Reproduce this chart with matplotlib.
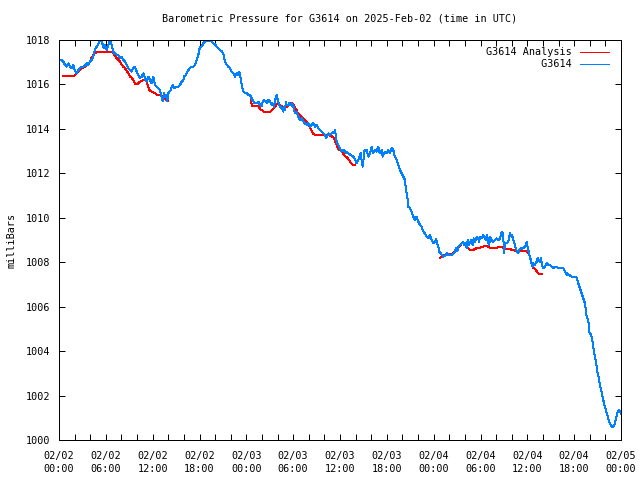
import matplotlib
matplotlib.use("Agg")
import matplotlib.pyplot as plt
from matplotlib.ticker import MultipleLocator

# hours since 2025-02-02 00:00 UTC, pressure in millibars
obs_hours = [
    0.00, 0.34, 0.55, 0.77, 0.98, 1.20, 1.41, 1.62, 1.84, 2.05, 2.27, 2.48, 2.69, 2.90,
    3.12, 3.33, 3.55, 3.76, 3.97, 4.19, 4.40, 4.53, 4.70, 4.96, 5.17, 5.38, 5.55, 5.72,
    5.90, 6.10, 6.32, 6.53, 6.75, 6.96, 7.17, 7.39, 7.60, 7.80, 8.03, 8.24, 8.46, 8.67,
    8.88, 9.10, 9.31, 9.52, 9.74, 9.95, 10.16, 10.38, 10.59, 10.80, 11.02, 11.23, 11.44,
    11.66, 11.87, 12.08, 12.30, 12.51, 12.72, 12.94, 13.15, 13.28, 13.45, 13.58, 13.70,
    13.88, 14.00, 14.13, 14.31, 14.56, 14.73, 14.99, 15.29, 15.50, 15.72, 15.93, 16.01,
    16.27, 16.44, 16.78, 17.00, 17.21, 17.42, 17.64, 17.85, 17.98, 18.06, 18.28, 18.48,
    18.70, 18.92, 19.13, 19.34, 19.56, 19.77, 19.98, 20.20, 20.41, 20.63, 20.84, 21.05,
    21.27, 21.48, 21.69, 21.91, 22.12, 22.33, 22.55, 22.76, 22.97, 23.10, 23.27, 23.40,
    23.61, 23.83, 24.04, 24.25, 24.47, 24.68, 24.89, 25.11, 25.32, 25.53, 25.75, 25.96,
    26.09, 26.26, 26.52, 26.69, 26.81, 27.03, 27.24, 27.37, 27.54, 27.67, 27.80, 27.88,
    28.09, 28.22, 28.31, 28.52, 28.65, 28.73, 28.86, 28.95, 29.08, 29.16, 29.37, 29.50,
    29.59, 29.81, 29.93, 30.01, 30.23, 30.45, 30.66, 30.87, 31.09, 31.30, 31.51, 31.73,
    31.94, 32.15, 32.37, 32.58, 32.80, 33.01, 33.22, 33.44, 33.65, 33.86, 34.08, 34.20,
    34.37, 34.50, 34.72, 34.93, 35.14, 35.27, 35.36, 35.48, 35.57, 35.79, 36.00, 36.21,
    36.42, 36.64, 36.77, 36.85, 37.06, 37.28, 37.49, 37.70, 37.92, 38.13, 38.35, 38.56,
    38.69, 38.78, 38.90, 38.98, 39.11, 39.20, 39.42, 39.62, 39.84, 40.06, 40.26, 40.48,
    40.70, 40.90, 41.03, 41.12, 41.34, 41.47, 41.63, 41.76, 41.98, 42.19, 42.40, 42.62,
    42.83, 42.95, 43.17, 43.34, 43.47, 43.68, 43.90, 44.11, 44.33, 44.45, 44.62, 44.75,
    44.97, 45.18, 45.39, 45.61, 45.82, 46.03, 46.25, 46.47, 46.67, 46.89, 47.11, 47.31,
    47.53, 47.75, 47.95, 48.17, 48.30, 48.46, 48.59, 48.72, 48.90, 49.03, 49.23, 49.45,
    49.67, 49.87, 50.09, 50.31, 50.51, 50.73, 50.86, 51.03, 51.15, 51.37, 51.59, 51.79,
    51.88, 52.01, 52.23, 52.36, 52.49, 52.65, 52.87, 53.00, 53.16, 53.33, 53.51, 53.71,
    53.84, 53.93, 54.15, 54.36, 54.57, 54.70, 54.79, 54.92, 55.00, 55.13, 55.22, 55.43,
    55.64, 55.86, 56.07, 56.28, 56.50, 56.62, 56.71, 56.84, 56.92, 57.01, 57.14, 57.35,
    57.56, 57.78, 57.90, 58.03, 58.12, 58.20, 58.42, 58.55, 58.71, 58.84, 58.97, 59.15,
    59.28, 59.48, 59.70, 59.92, 59.99, 60.12, 60.25, 60.34, 60.47, 60.56, 60.68, 60.76,
    60.98, 61.20, 61.33, 61.45, 61.62, 61.75, 61.88, 62.04, 62.26, 62.48, 62.68, 62.90,
    63.12, 63.32, 63.54, 63.76, 63.96, 64.18, 64.60, 64.82, 65.04, 65.12, 65.37, 65.68,
    66.32, 66.53, 66.74, 66.96, 67.17, 67.38, 67.51, 67.60, 67.81, 67.93, 68.15, 68.28,
    68.45, 68.58, 68.75, 68.88, 69.00, 69.17, 69.30, 69.47, 69.60, 69.73, 69.86, 70.07,
    70.24, 70.42, 70.59, 70.80, 71.00, 71.22, 71.35, 71.52, 71.70, 71.87, 72.00,
]
obs_mb = [
    1017.07, 1017.10, 1017.03, 1016.88, 1016.80, 1016.95, 1016.80, 1016.73, 1016.87, 1016.60,
    1016.50, 1016.65, 1016.73, 1016.80, 1016.80, 1016.85, 1016.95, 1016.88, 1017.03, 1017.10,
    1017.25, 1017.47, 1017.63, 1017.78, 1017.93, 1018.00, 1017.85, 1017.63, 1017.78, 1017.55,
    1017.78, 1018.00, 1017.78, 1017.47, 1017.40, 1017.33, 1017.33, 1017.18, 1017.25, 1017.10,
    1017.03, 1016.88, 1016.73, 1016.65, 1016.58, 1016.73, 1016.80, 1016.58, 1016.43, 1016.28,
    1016.35, 1016.50, 1016.28, 1016.13, 1016.35, 1016.20, 1016.05, 1016.35, 1015.98, 1015.90,
    1015.83, 1015.75, 1015.45, 1015.25, 1015.60, 1015.45, 1015.53, 1015.25, 1015.60, 1015.68,
    1015.75, 1015.98, 1015.83, 1015.90, 1015.90, 1015.98, 1016.13, 1016.20, 1016.35, 1016.43,
    1016.58, 1016.73, 1016.80, 1016.80, 1016.88, 1017.10, 1017.33, 1017.55, 1017.70, 1017.70,
    1017.85, 1017.93, 1018.00, 1017.96, 1018.00, 1017.93, 1017.85, 1017.80, 1017.70, 1017.63,
    1017.55, 1017.50, 1017.40, 1017.03, 1016.88, 1016.80, 1016.73, 1016.58, 1016.50, 1016.35,
    1016.50, 1016.43, 1016.58, 1016.28, 1015.98, 1015.70, 1015.60, 1015.60, 1015.53, 1015.53,
    1015.38, 1015.23, 1015.15, 1015.15, 1015.23, 1015.08, 1015.03, 1015.23, 1015.30, 1015.23,
    1015.15, 1015.30, 1015.23, 1015.08, 1015.15, 1015.00, 1015.30, 1015.38, 1015.53, 1015.23,
    1015.08, 1015.00, 1014.93, 1014.85, 1014.78, 1015.00, 1014.85, 1015.23, 1015.08, 1015.08,
    1015.15, 1015.08, 1015.15, 1015.00, 1015.08, 1014.70, 1014.78, 1014.55, 1014.40, 1014.48,
    1014.33, 1014.25, 1014.18, 1014.25, 1014.10, 1014.18, 1014.25, 1014.10, 1014.18, 1014.03,
    1013.95, 1013.88, 1013.80, 1013.73, 1013.58, 1013.65, 1013.80, 1013.73, 1013.80, 1013.88,
    1013.80, 1013.95, 1013.65, 1013.43, 1013.28, 1013.13, 1012.98, 1013.05, 1012.98, 1012.90,
    1012.98, 1012.90, 1012.85, 1012.80, 1012.75, 1012.65, 1012.45, 1012.60, 1012.83, 1012.90,
    1012.53, 1012.30, 1012.53, 1012.98, 1013.05, 1013.05, 1012.75, 1012.90, 1013.20, 1012.90,
    1013.05, 1012.98, 1013.20, 1012.98, 1012.90, 1013.05, 1012.75, 1012.90, 1012.98, 1012.90,
    1013.05, 1012.90, 1013.13, 1013.05, 1012.83, 1012.68, 1012.53, 1012.38, 1012.15, 1012.00,
    1011.85, 1011.70, 1011.25, 1010.95, 1010.50, 1010.43, 1010.28, 1010.05, 1009.90, 1010.05,
    1009.83, 1009.68, 1009.60, 1009.38, 1009.30, 1009.15, 1009.07, 1009.23, 1009.00, 1008.85,
    1008.92, 1009.03, 1008.85, 1008.70, 1008.48, 1008.40, 1008.33, 1008.25, 1008.28, 1008.40,
    1008.33, 1008.33, 1008.33, 1008.36, 1008.48, 1008.63, 1008.50, 1008.70, 1008.78, 1008.85,
    1008.92, 1008.78, 1008.85, 1008.63, 1009.00, 1008.78, 1008.92, 1009.00, 1008.78, 1009.07,
    1008.92, 1009.15, 1009.07, 1008.92, 1009.15, 1009.10, 1009.23, 1009.07, 1009.00, 1009.23,
    1009.10, 1008.85, 1008.78, 1009.15, 1009.00, 1008.92, 1009.00, 1009.07, 1009.00, 1009.07,
    1009.23, 1009.38, 1009.30, 1009.15, 1008.40, 1008.85, 1008.85, 1008.92, 1009.30, 1009.20,
    1009.23, 1009.10, 1009.00, 1008.78, 1008.55, 1008.48, 1008.40, 1008.55, 1008.63, 1008.60,
    1008.63, 1008.70, 1008.92, 1008.78, 1008.55, 1008.33, 1008.18, 1008.10, 1007.88, 1007.80,
    1007.95, 1007.88, 1008.03, 1008.18, 1008.10, 1008.03, 1008.18, 1007.88, 1007.73, 1007.80,
    1007.95, 1007.88, 1007.88, 1007.80, 1007.73, 1007.80, 1007.80, 1007.73, 1007.75, 1007.73,
    1007.58, 1007.43, 1007.50, 1007.43, 1007.35, 1007.32, 1007.05, 1006.83, 1006.60, 1006.38,
    1006.15, 1005.78, 1005.55, 1005.40, 1004.87, 1004.73, 1004.58, 1004.20, 1003.90, 1003.60,
    1003.30, 1003.00, 1002.78, 1002.48, 1002.25, 1002.03, 1001.80, 1001.58, 1001.35, 1001.13,
    1000.90, 1000.75, 1000.60, 1000.60, 1000.75, 1000.98, 1001.20, 1001.35, 1001.28, 1001.20,
]

# analysis comes in three separate runs
ana_hours_1 = [0.55, 1.84, 2.05, 2.27, 2.48, 2.69, 2.90, 3.12, 3.33, 3.55, 3.76, 3.97, 4.10,
               4.27, 4.53, 4.83, 5.45, 6.75, 6.96, 7.17, 7.39, 7.60, 7.80, 8.03, 8.24, 8.46,
               8.67, 8.88, 9.10, 9.31, 9.52, 9.74, 9.95, 10.16, 10.38, 10.59, 10.80, 11.02,
               11.23, 11.44, 11.66, 11.87, 12.08, 12.30, 12.51, 12.72, 13.07, 13.24, 13.41,
               13.58, 13.79, 13.92]
ana_mb_1 = [1016.37, 1016.37, 1016.43, 1016.50, 1016.60, 1016.68, 1016.73, 1016.76, 1016.80,
            1016.85, 1016.93, 1017.03, 1017.15, 1017.25, 1017.40, 1017.45, 1017.47, 1017.47,
            1017.40, 1017.30, 1017.18, 1017.10, 1017.03, 1016.88, 1016.80, 1016.73, 1016.60,
            1016.52, 1016.35, 1016.30, 1016.20, 1016.02, 1016.00, 1016.05, 1016.13, 1016.16,
            1016.20, 1016.20, 1016.13, 1015.88, 1015.70, 1015.68, 1015.65, 1015.60, 1015.55,
            1015.53, 1015.50, 1015.45, 1015.38, 1015.35, 1015.27, 1015.25]

ana_hours_2 = [24.60, 24.69, 25.53, 25.75, 25.97, 26.25, 26.52, 27.03, 27.25, 27.45, 27.67,
               27.89, 28.09, 28.31, 28.53, 28.73, 28.95, 29.17, 29.37, 29.59, 29.81, 30.02,
               30.23, 30.45, 30.66, 30.87, 31.09, 31.30, 31.51, 31.73, 31.94, 32.15, 32.37,
               32.58, 32.80, 33.44, 34.29, 34.72, 35.14, 35.36, 35.58, 35.78, 36.22, 36.42,
               36.64, 36.86, 37.06, 37.28, 37.50, 37.70, 37.92]
ana_mb_2 = [1015.30, 1015.05, 1015.05, 1014.90, 1014.84, 1014.78, 1014.75, 1014.75, 1014.83,
            1014.90, 1014.98, 1015.13, 1015.17, 1015.08, 1015.02, 1014.90, 1015.02, 1014.98,
            1015.05, 1015.08, 1015.17, 1015.13, 1014.98, 1014.83, 1014.68, 1014.60, 1014.53,
            1014.45, 1014.38, 1014.30, 1014.23, 1014.08, 1013.93, 1013.78, 1013.73, 1013.73,
            1013.73, 1013.70, 1013.63, 1013.48, 1013.25, 1013.08, 1013.03, 1012.88, 1012.78,
            1012.73, 1012.65, 1012.53, 1012.43, 1012.38, 1012.38]

ana_hours_3 = [48.81, 49.03, 49.23, 49.45, 49.87, 50.31, 50.51, 50.73, 50.95, 51.15, 51.37,
               51.59, 51.79, 52.01, 52.23, 52.44, 52.65, 53.07, 53.29, 53.51, 53.71, 53.93,
               54.15, 54.36, 54.57, 54.79, 55.00, 55.22, 55.43, 55.64, 55.86, 56.07, 56.28,
               56.50, 56.71, 56.92, 57.14, 57.35, 57.78, 58.00, 58.20, 58.63, 59.92, 60.12,
               60.25, 60.34, 60.47, 60.60, 60.68, 60.76, 60.98, 61.20, 61.41, 61.62, 61.84]
ana_mb_3 = [1008.18, 1008.25, 1008.30, 1008.33, 1008.36, 1008.36, 1008.40, 1008.48, 1008.55,
            1008.65, 1008.74, 1008.85, 1008.90, 1008.85, 1008.70, 1008.63, 1008.55, 1008.55,
            1008.60, 1008.63, 1008.65, 1008.65, 1008.70, 1008.70, 1008.74, 1008.74, 1008.70,
            1008.65, 1008.63, 1008.63, 1008.65, 1008.65, 1008.68, 1008.70, 1008.70, 1008.65,
            1008.63, 1008.60, 1008.60, 1008.55, 1008.55, 1008.50, 1008.50, 1008.40, 1008.33,
            1008.18, 1008.03, 1007.95, 1007.85, 1007.75, 1007.70, 1007.60, 1007.50, 1007.46,
            1007.46]

tick_hours = [0, 6, 12, 18, 24, 30, 36, 42, 48, 54, 60, 66, 72]
tick_labels = ["02/02\n00:00", "02/02\n06:00", "02/02\n12:00", "02/02\n18:00",
               "02/03\n00:00", "02/03\n06:00", "02/03\n12:00", "02/03\n18:00",
               "02/04\n00:00", "02/04\n06:00", "02/04\n12:00", "02/04\n18:00",
               "02/05\n00:00"]

plt.rcParams['font.family'] = ['DejaVu Sans Mono']
plt.rcParams['font.size'] = 7.3

fig = plt.figure(figsize=(6.4, 4.8), dpi=100)
ax = fig.add_axes([59 / 640, 40 / 480, 562 / 640, 400 / 480])

red = '#ff0000'
blue = '#0080ff'
lw = 0.72

ax.plot(ana_hours_1, ana_mb_1, color=red, lw=lw, antialiased=False, label='G3614 Analysis')
ax.plot(ana_hours_2, ana_mb_2, color=red, lw=lw, antialiased=False)
ax.plot(ana_hours_3, ana_mb_3, color=red, lw=lw, antialiased=False)
ax.plot(obs_hours, obs_mb, color=blue, lw=lw, antialiased=False, label='         G3614')

ax.set_xlim(0, 72)
ax.set_ylim(1000, 1018)
ax.set_xticks(tick_hours)
ax.set_xticklabels(tick_labels, linespacing=1.35)
ax.xaxis.set_minor_locator(MultipleLocator(2))
ax.yaxis.set_major_locator(MultipleLocator(2))
ax.tick_params(which='both', direction='in', top=True, right=True,
               length=4, width=0.72)
ax.tick_params(axis='x', pad=8)
ax.tick_params(axis='y', pad=6)
for s in ax.spines.values():
    s.set_linewidth(0.72)

ax.set_title('Barometric Pressure for G3614 on 2025-Feb-02 (time in UTC)',
             fontsize=7.3, pad=13)
ax.set_ylabel('milliBars', labelpad=7)

ax.legend(loc='upper right', bbox_to_anchor=(0.988, 0.995), frameon=False,
          markerfirst=False, handlelength=2.9, handletextpad=0.8, labelspacing=0.2,
          borderaxespad=0.3, borderpad=0.2)

fig.savefig('out.png', dpi=100)
